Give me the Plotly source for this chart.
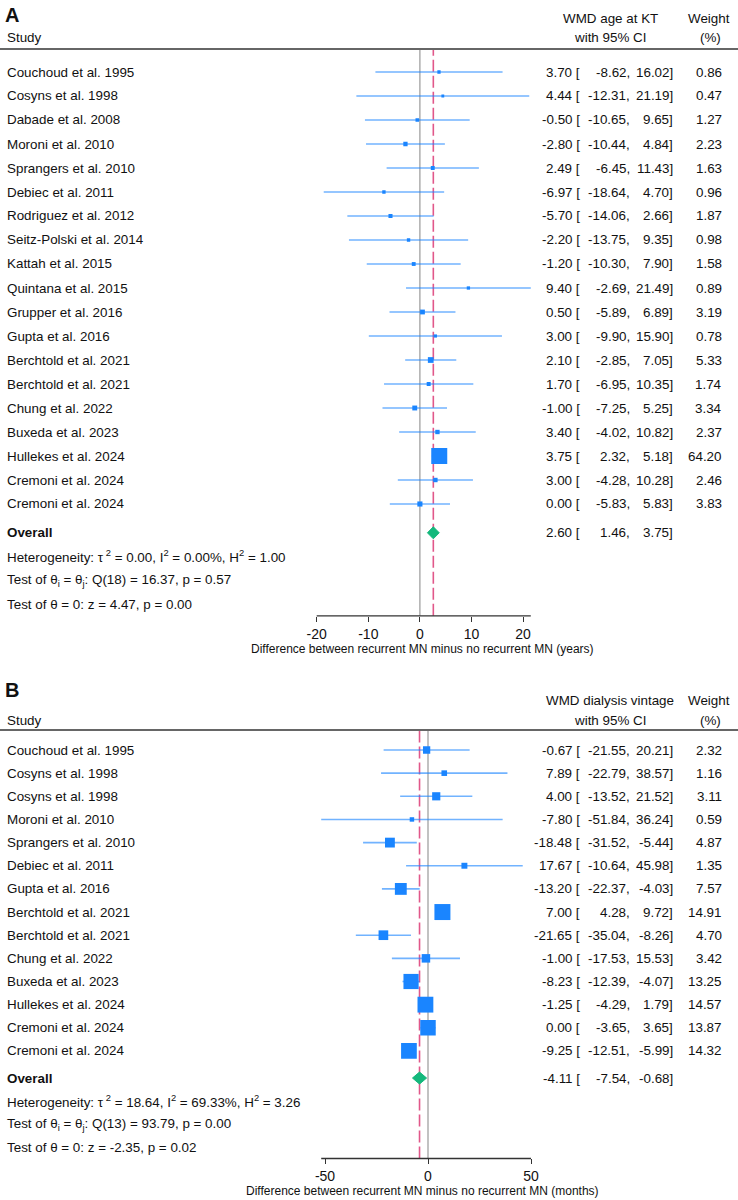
import plotly.graph_objects as go

W, H = 738, 1200
FONT = "Liberation Sans, Arial, sans-serif"

# ---------------- data: panel A (age at KT, years) ----------------
A_studies = ["Couchoud et al. 1995", "Cosyns et al. 1998", "Dabade et al. 2008", "Moroni et al. 2010",
             "Sprangers et al. 2010", "Debiec et al. 2011", "Rodriguez et al. 2012", "Seitz-Polski et al. 2014",
             "Kattah et al. 2015", "Quintana et al. 2015", "Grupper et al. 2016", "Gupta et al. 2016",
             "Berchtold et al. 2021", "Berchtold et al. 2021", "Chung et al. 2022", "Buxeda et al. 2023",
             "Hullekes et al. 2024", "Cremoni et al. 2024", "Cremoni et al. 2024"]
A_est = [3.70, 4.44, -0.50, -2.80, 2.49, -6.97, -5.70, -2.20, -1.20, 9.40, 0.50, 3.00, 2.10, 1.70, -1.00, 3.40, 3.75, 3.00, 0.00]
A_lo = [-8.62, -12.31, -10.65, -10.44, -6.45, -18.64, -14.06, -13.75, -10.30, -2.69, -5.89, -9.90, -2.85, -6.95, -7.25, -4.02, 2.32, -4.28, -5.83]
A_hi = [16.02, 21.19, 9.65, 4.84, 11.43, 4.70, 2.66, 9.35, 7.90, 21.49, 6.89, 15.90, 7.05, 10.35, 5.25, 10.82, 5.18, 10.28, 5.83]
A_w = [0.86, 0.47, 1.27, 2.23, 1.63, 0.96, 1.87, 0.98, 1.58, 0.89, 3.19, 0.78, 5.33, 1.74, 3.34, 2.37, 64.20, 2.46, 3.83]
A_overall = [2.60, 1.46, 3.75]
A_het = ["0.00", "0.00", "1.00"]          # tau2, I2 (%), H2
A_q = ["18", "16.37", "0.57"]             # df, Q, p
A_z = ["4.47", "0.00"]                    # z, p
A_ticks = [-20, -10, 0, 10, 20]
A_header = "WMD age at KT"
A_xtitle = "Difference between recurrent MN minus no recurrent MN (years)"

# ---------------- data: panel B (dialysis vintage, months) ----------------
B_studies = ["Couchoud et al. 1995", "Cosyns et al. 1998", "Cosyns et al. 1998", "Moroni et al. 2010",
             "Sprangers et al. 2010", "Debiec et al. 2011", "Gupta et al. 2016", "Berchtold et al. 2021",
             "Berchtold et al. 2021", "Chung et al. 2022", "Buxeda et al. 2023", "Hullekes et al. 2024",
             "Cremoni et al. 2024", "Cremoni et al. 2024"]
B_est = [-0.67, 7.89, 4.00, -7.80, -18.48, 17.67, -13.20, 7.00, -21.65, -1.00, -8.23, -1.25, 0.00, -9.25]
B_lo = [-21.55, -22.79, -13.52, -51.84, -31.52, -10.64, -22.37, 4.28, -35.04, -17.53, -12.39, -4.29, -3.65, -12.51]
B_hi = [20.21, 38.57, 21.52, 36.24, -5.44, 45.98, -4.03, 9.72, -8.26, 15.53, -4.07, 1.79, 3.65, -5.99]
B_w = [2.32, 1.16, 3.11, 0.59, 4.87, 1.35, 7.57, 14.91, 4.70, 3.42, 13.25, 14.57, 13.87, 14.32]
B_overall = [-4.11, -7.54, -0.68]
B_het = ["18.64", "69.33", "3.26"]
B_q = ["13", "93.79", "0.00"]
B_z = ["-2.35", "0.02"]
B_ticks = [-50, 0, 50]
B_header = "WMD dialysis vintage"
B_xtitle = "Difference between recurrent MN minus no recurrent MN (months)"

# ---------------- styling ----------------
BLUE = "#1a85ff"
CI_COL = "rgba(26,133,255,0.62)"
RED = "rgba(212,17,89,0.70)"
GREEN = "#14b87c"
GRAY = "#999999"
DARK = "#333333"
TXT = "#111111"
FS = 13.4

def px(x):
    return x / W

def py(y):
    return 1 - y / H

# layout (pixel) parameters per panel
panels = [
    dict(letter="A", studies=A_studies, est=A_est, lo=A_lo, hi=A_hi, w=A_w, ov=A_overall,
         het=A_het, q=A_q, z=A_z, ticks=A_ticks, header=A_header, xtitle=A_xtitle,
         zero_px=419.9, scale=5.16, letter_y=15, hdr1=18, hdr2=38, rule=49, row0=72, step=24.0, ov_gap=0.2),
    dict(letter="B", studies=B_studies, est=B_est, lo=B_lo, hi=B_hi, w=B_w, ov=B_overall,
         het=B_het, q=B_q, z=B_z, ticks=B_ticks, header=B_header, xtitle=B_xtitle,
         zero_px=428.0, scale=2.06, letter_y=690, hdr1=700, hdr2=720, rule=730, row0=750, step=23.15, ov_gap=0.17),
]

DOM_L, DOM_R = 280, 575
TITLE_X = 422

fig = go.Figure()
annotations = []
shapes = []
layout_axes = {}

for k, P in enumerate(panels):
    n = len(P["studies"])
    xa = "x" if k == 0 else "x2"
    ya = "y" if k == 0 else "y2"
    xkey = "xaxis" if k == 0 else "xaxis2"
    ykey = "yaxis" if k == 0 else "yaxis2"
    r0, st = P["row0"], P["step"]

    def rowpx(i, r0=r0, st=st):
        return r0 + st * i

    ov_i = n + P["ov_gap"]
    top_px = P["rule"] + 1
    ax_px = rowpx(ov_i + 3) + 11

    # CI lines
    xs, ys = [], []
    for i in range(n):
        xs += [P["lo"][i], P["hi"][i], None]
        ys += [i, i, None]
    fig.add_trace(go.Scatter(x=xs, y=ys, mode="lines", line=dict(color=CI_COL, width=1.6),
                             xaxis=xa, yaxis=ya, hoverinfo="skip", showlegend=False))
    # markers sized by weight
    wmax = max(P["w"])
    sizes = [1.6 + 14.4 * (wi / wmax) ** 0.5 for wi in P["w"]]
    fig.add_trace(go.Scatter(x=P["est"], y=list(range(n)), mode="markers",
                             marker=dict(symbol="square", size=sizes, color=BLUE, opacity=1,
                                         line=dict(width=0)),
                             xaxis=xa, yaxis=ya, showlegend=False))
    # overall diamond
    e, l, h = P["ov"]
    hh = 6.0 / st
    fig.add_trace(go.Scatter(x=[l, e, h, e, l], y=[ov_i, ov_i - hh, ov_i, ov_i + hh, ov_i],
                             mode="lines", fill="toself", fillcolor=GREEN, line=dict(color=GREEN, width=1),
                             xaxis=xa, yaxis=ya, showlegend=False))

    # axes
    z0, s = P["zero_px"], P["scale"]
    layout_axes[xkey] = dict(domain=[px(DOM_L), px(DOM_R)], range=[(DOM_L - z0) / s, (DOM_R - z0) / s],
                             anchor=ya, showgrid=False, zeroline=False, showline=False,
                             ticks="outside", ticklen=5, tickwidth=1, tickcolor=DARK,
                             tickvals=P["ticks"], ticktext=[str(v) for v in P["ticks"]],
                             tickfont=dict(family=FONT, size=14, color=TXT), fixedrange=True)
    yr_bottom = (ax_px - r0) / st
    yr_top = (top_px - r0) / st
    layout_axes[ykey] = dict(domain=[py(ax_px), py(top_px)], range=[yr_bottom, yr_top],
                             visible=False, anchor=xa, fixedrange=True)

    # axis line spanning data/ticks
    x_lo = min(min(P["lo"]), P["ticks"][0])
    x_hi = max(max(P["hi"]), P["ticks"][-1])
    shapes.append(dict(type="line", xref=xa, yref="paper", x0=x_lo, x1=x_hi, y0=py(ax_px), y1=py(ax_px),
                       line=dict(color=DARK, width=1.3)))
    # no-effect line and overall dashed line
    shapes.append(dict(type="line", xref=xa, yref="paper", x0=0, x1=0, y0=py(ax_px), y1=py(top_px),
                       line=dict(color=GRAY, width=1.2), layer="below"))
    shapes.append(dict(type="line", xref=xa, yref="paper", x0=e, x1=e, y0=py(ax_px), y1=py(top_px),
                       line=dict(color=RED, width=1.6, dash="12px,4px"), layer="below"))
    # header rule
    shapes.append(dict(type="line", xref="paper", yref="paper", x0=0, x1=1, y0=py(P["rule"]), y1=py(P["rule"]),
                       line=dict(color=DARK, width=1.4)))

    def text(x, y, s, anchor="left", size=FS, bold=False):
        annotations.append(dict(x=px(x), y=py(y), xref="paper", yref="paper", text=(f"<b>{s}</b>" if bold else s),
                                showarrow=False, xanchor=anchor, yanchor="middle",
                                font=dict(family=FONT, size=size, color=TXT)))

    # header
    text(3, P["letter_y"], P["letter"], size=20, bold=True)
    text(5, P["hdr2"], "Study")
    text(610, P["hdr1"], P["header"], anchor="center")
    text(610, P["hdr2"], "with 95% CI", anchor="center")
    text(709, P["hdr1"], "Weight", anchor="center")
    text(710, P["hdr2"], "(%)", anchor="center")

    # rows
    for i in range(n):
        y = rowpx(i)
        text(5, y, P["studies"][i])
        text(582, y, f"{P['est'][i]:.2f} [", anchor="right")
        text(632, y, f"{P['lo'][i]:.2f},", anchor="right")
        text(675, y, f"{P['hi'][i]:.2f}]", anchor="right")
        text(724, y, f"{P['w'][i]:.2f}", anchor="right")

    y = rowpx(ov_i)
    text(5, y, "Overall", bold=True)
    text(582, y, f"{e:.2f} [", anchor="right")
    text(632, y, f"{l:.2f},", anchor="right")
    text(675, y, f"{h:.2f}]", anchor="right")

    tau2, i2, h2 = P["het"]
    text(5, rowpx(ov_i + 1), f"Heterogeneity: τ<sup> 2</sup> = {tau2}, I<sup>2</sup> = {i2}%, H<sup>2</sup> = {h2}")
    df, qv, pv = P["q"]
    text(5, rowpx(ov_i + 2), f"Test of θ<sub>i</sub> = θ<sub>j</sub>: Q({df}) = {qv}, p = {pv}")
    zv, pz = P["z"]
    text(5, rowpx(ov_i + 3), f"Test of θ = 0: z = {zv}, p = {pz}")

    # x title
    text(TITLE_X, ax_px + 33, P["xtitle"], anchor="center", size=12)

fig.update_layout(width=W, height=H, margin=dict(l=0, r=0, t=0, b=0),
                  paper_bgcolor="white", plot_bgcolor="white",
                  annotations=annotations, shapes=shapes, showlegend=False,
                  font=dict(family=FONT, size=FS, color=TXT), **layout_axes)

fig.write_html("out.html")
